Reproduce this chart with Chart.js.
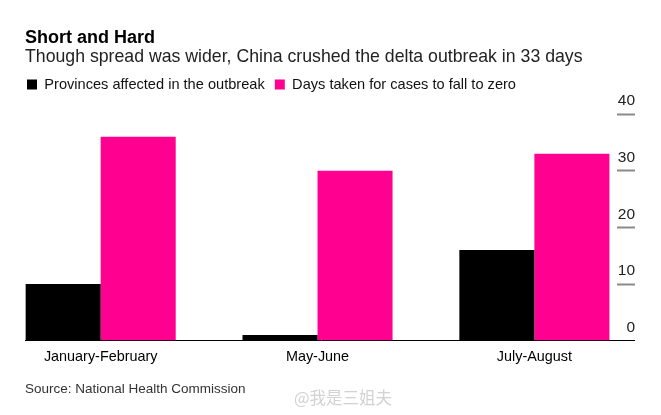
<!DOCTYPE html>
<html>
<head>
<meta charset="utf-8">
<script src="https://cdn.jsdelivr.net/npm/chart.js@4/dist/chart.umd.min.js"></script>
<style>
  body { margin: 0; background: #fff; }
  .wrap { position: relative; width: 661px; height: 415px; }
  .mark {
    position: absolute; left: 294px; top: 385px;
    font: 16.5px "Noto Sans CJK SC", sans-serif;
    color: #d2d2d2; text-shadow: 0 0 2px #fff;
  }
</style>
</head>
<body>
<div class="wrap">
  <canvas id="chart" width="661" height="415"></canvas>
  <span class="mark">@我是三姐夫</span>
</div>
<script>
const categories = ['January-February', 'May-June', 'July-August'];
const provinces = [10, 1, 16];
const days = [36, 30, 33];
const yTicks = [0, 10, 20, 30, 40];

const pink = '#ff0090';

Chart.defaults.font.family = "'Liberation Sans', Arial, sans-serif";
Chart.defaults.color = '#000';

const ctx = document.getElementById('chart');

// categories sit on a linear axis so the groups can run flush to the baseline ends
const toPoints = (arr) => arr.map((v, i) => ({ x: i, y: v }));

new Chart(ctx, {
  type: 'bar',
  data: {
    datasets: [
      {
        label: 'Provinces affected in the outbreak',
        data: toPoints(provinces),
        backgroundColor: '#000000',
        xAxisID: 'x',
        yAxisID: 'y'
      },
      {
        label: 'Days taken for cases to fall to zero',
        data: toPoints(days),
        backgroundColor: pink,
        xAxisID: 'x',
        yAxisID: 'y'
      }
    ]
  },
  options: {
    responsive: false,
    animation: false,
    categoryPercentage: 0.692,
    barPercentage: 1,
    layout: { padding: { left: 25, right: 26, top: 0, bottom: 0 } },
    plugins: {
      tooltip: { enabled: false },
      title: {
        display: true,
        text: 'Short and Hard',
        align: 'start',
        color: '#000',
        font: { size: 18, weight: 'bold', lineHeight: 1 },
        padding: { top: 29.5, bottom: 0 }
      },
      subtitle: {
        display: true,
        text: 'Though spread was wider, China crushed the delta outbreak in 33 days',
        align: 'start',
        color: '#222',
        font: { size: 17.7, lineHeight: 1.1 },
        padding: { top: 0, bottom: 8.2 }
      },
      legend: {
        display: true,
        align: 'start',
        labels: {
          boxWidth: 10,
          boxHeight: 10,
          padding: 2,
          color: '#111',
          font: { size: 14.6 },
          // trailing gap after every item but the last
          generateLabels: (chart) => {
            const items = Chart.defaults.plugins.legend.labels.generateLabels(chart);
            items.forEach((it, i) => {
              if (i < items.length - 1) it.text = it.text + '  ';
            });
            return items;
          }
        }
      }
    },
    scales: {
      x: {
        type: 'linear',
        offset: false,
        min: -0.349,
        max: 2.381,
        grid: { display: false, drawTicks: false, offset: false },
        border: { display: true, color: '#000', width: 1 },
        ticks: {
          stepSize: 1,
          includeBounds: false,
          autoSkip: false,
          maxRotation: 0,
          padding: 8,
          color: '#000',
          font: { size: 14.4 },
          callback: (v) => categories[v] ?? ''
        },
        title: {
          display: true,
          text: 'Source: National Health Commission',
          align: 'start',
          color: '#333',
          font: { size: 13.5 },
          padding: { top: 0, bottom: 17.4 }
        },
        afterFit: (s) => { s.height = 74.3; }
      },
      // empty band between the legend and the plot
      gap: {
        type: 'linear',
        position: 'top',
        display: true,
        ticks: { display: false },
        grid: { display: false, drawTicks: false },
        border: { display: false },
        afterFit: (s) => { s.height = 12.3; }
      },
      y: {
        position: 'right',
        min: 0,
        max: 40,
        afterBuildTicks: (s) => { s.ticks = yTicks.map((v) => ({ value: v })); },
        grid: {
          drawOnChartArea: false,
          drawTicks: true,
          tickLength: 18,
          tickWidth: (c) => (c.tick && c.tick.value === 0 ? 1 : 2),
          tickColor: (c) => (c.tick && c.tick.value === 0 ? '#000' : '#8a8a8a')
        },
        border: { display: false },
        ticks: {
          crossAlign: 'far',
          labelOffset: -13,
          padding: 0,
          color: '#222',
          font: { size: 15.5 }
        },
        afterFit: (s) => { s.width = 18; }
      }
    }
  }
});
</script>
</body>
</html>
